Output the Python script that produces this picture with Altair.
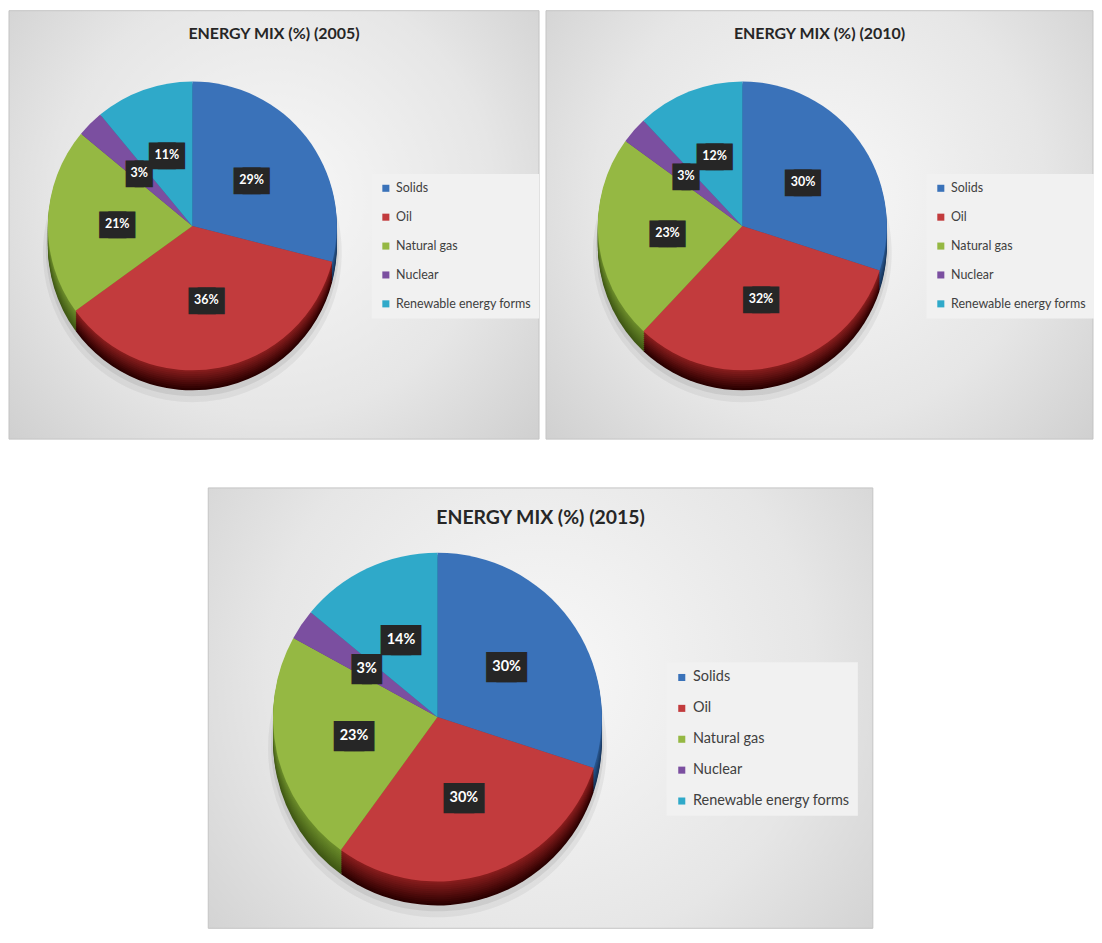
import altair as alt
import pandas as pd

# ---------------- data ----------------
categories = ["Solids", "Oil", "Natural gas", "Nuclear", "Renewable energy forms"]
titles = ["ENERGY MIX (%) (2005)", "ENERGY MIX (%) (2010)", "ENERGY MIX (%) (2015)"]
share_2005 = [29, 36, 21, 3, 11]
share_2010 = [30, 32, 23, 3, 12]
share_2015 = [30, 30, 23, 3, 14]

# ---------------- styles ----------------
top_colors = ["#3A72B9", "#C23B3D", "#95B843", "#7B4FA0", "#2FA9C9"]
side_light = ["#2b5a94", "#8e1f1f", "#6e8f2c", "#5a3a7a", "#1f7e96"]
side_dark = ["#163255", "#2a0000", "#3f5714", "#33204a", "#0f4a5a"]
FONT = "Lato"


def mix(c1, c2, t):
    a = [int(c1[i:i + 2], 16) for i in (1, 3, 5)]
    b = [int(c2[i:i + 2], 16) for i in (1, 3, 5)]
    return "#" + "".join(f"{round(x + (y - x) * t):02x}" for x, y in zip(a, b))


def panel(title, values, x0, W, H, cx, cy, R, depth, title_size, title_y,
          label_size, box_size, box_stroke, legend_x, legend_y, legend_font):
    df = pd.DataFrame({
        "category": categories,
        "share": values,
        "order": list(range(len(categories))),
        "label": [f"{v}%" for v in values],
    })
    df["box"] = ["\u2588" * len(s) for s in df["label"]]
    base = alt.Chart(df)
    theta = alt.Theta("share:Q", stack=True)
    order = alt.Order("order:Q")
    pos = dict(x=alt.value(x0 + cx), y=alt.value(cy))

    bg = alt.Chart(alt.Data(values=[{}])).mark_rect(
        fill=alt.RadialGradient(
            gradient="radial",
            stops=[alt.GradientStop(color="#f8f8f8", offset=0),
                   alt.GradientStop(color="#e6e6e6", offset=0.55),
                   alt.GradientStop(color="#c9c9c9", offset=1)],
            x1=0.5, y1=0.45, r1=0, x2=0.5, y2=0.45, r2=0.75),
        stroke="#c4c4c4", strokeWidth=1,
    ).encode(x=alt.value(x0), x2=alt.value("width"),
             y=alt.value(0), y2=alt.value("height"))

    layers = [bg]
    # soft shadow under the pie
    for extra, yo, op in [(5, depth + 7, 0.05), (2, depth + 4, 0.07)]:
        layers.append(base.mark_arc(outerRadius=R + extra, yOffset=yo,
                                    color="#000000", opacity=op).encode(
            theta=theta, order=order, **pos))

    for k in range(depth, 0, -2):
        t = k / depth
        rng = [mix(l, d, t) for l, d in zip(side_light, side_dark)]
        layers.append(base.mark_arc(outerRadius=R, yOffset=k).encode(
            theta=theta, order=order,
            color=alt.Color("category:N", sort=categories,
                            scale=alt.Scale(domain=categories, range=rng),
                            legend=None),
            **pos))

    top = base.mark_arc(outerRadius=R).encode(
        theta=theta, order=order,
        color=alt.Color("category:N", sort=categories,
                        scale=alt.Scale(domain=categories, range=top_colors),
                        legend=alt.Legend(
                            title=None, orient="none",
                            legendX=x0 + legend_x, legendY=legend_y,
                            fillColor="#f1f1f1", padding=8,
                            symbolType="square", symbolSize=50,
                            symbolStrokeWidth=0, labelFont=FONT,
                            labelFontSize=legend_font, labelColor="#404040",
                            labelOffset=4, rowPadding=16)),
        **pos)
    layers.append(top)

    lr = R * 0.52
    boxes = base.mark_text(
        radius=lr, font="DejaVu Sans Mono", fontSize=box_size,
        color="#262626", stroke="#262626", strokeWidth=box_stroke,
        strokeJoin="miter", baseline="middle", dy=1,
    ).encode(theta=theta, order=order, text="box:N", **pos)
    labels = base.mark_text(
        radius=lr, font=FONT, fontWeight="bold", fontSize=label_size,
        color="white", baseline="middle",
    ).encode(theta=theta, order=order, text="label:N", **pos)
    layers += [boxes, labels]

    ttl = alt.Chart(alt.Data(values=[{"t": title}])).mark_text(
        font=FONT, fontWeight="bold", fontSize=title_size, color="#262626",
        baseline="middle",
    ).encode(text="t:N", x=alt.value(x0 + (W - x0) / 2), y=alt.value(title_y))
    layers.append(ttl)

    return alt.layer(*layers).resolve_scale(color="independent").properties(
        width=W, height=H)


p1 = panel(titles[0], share_2005, 0, 532, 430, 184, 216, 145, 20, 16, 23,
           12.5, 15, 9, 364, 164, 12.5)
p2 = panel(titles[1], share_2010, 0, 549, 430, 197, 216, 145, 20, 16, 23,
           12.5, 15, 9, 382, 164, 12.5)
p3 = panel(titles[2], share_2015, 200, 867, 442, 230, 230, 165, 24, 19.5, 30,
           14.5, 17, 10, 460, 175, 14.5)

row = alt.hconcat(p1, p2, spacing=5).resolve_scale(color="independent")
chart = alt.vconcat(row, p3, spacing=47).resolve_scale(
    color="independent"
).properties(padding=0, background="white").configure_view(stroke=None)

chart.save("out.html", embed_options={"renderer": "svg", "actions": False})
